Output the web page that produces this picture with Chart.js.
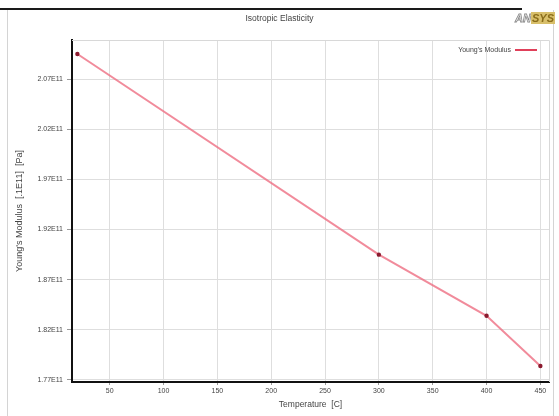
<!DOCTYPE html>
<html>
<head>
<meta charset="utf-8">
<script src="https://cdn.jsdelivr.net/npm/chart.js@4/dist/chart.umd.min.js"></script>
<style>
    html, body { margin: 0; padding: 0; background: #fff; }
    #wrap { position: relative; width: 559px; height: 416px; overflow: hidden; }
    #chart { position: absolute; left: 0; top: 0; }
    .topline { position: absolute; left: 0; top: 8px; width: 522px; height: 2px; background: #1a1a1a; }
    .panel { position: absolute; left: 7px; top: 10px; width: 545px; height: 406px;
             border-left: 1px solid #d4d4d4; border-right: 1px solid #d4d4d4; }
    .title { position: absolute; left: 0; width: 559px; top: 13px; text-align: center;
             font: 8.5px "Liberation Sans", Arial, sans-serif; color: #444; }
    .logo { position: absolute; right: 4px; top: 12px; font: italic bold 11px "Liberation Sans", Arial, sans-serif; }
    .logo .an { color: #fff; -webkit-text-stroke: 0.8px #888; }
    .logo .sys { color: #8a6d1a; background: #d8bf6a; padding: 0 1px; }
</style>
</head>
<body>
<div id="wrap">
    <div class="panel"></div>
    <div class="topline"></div>
    <canvas id="chart" width="559" height="416"></canvas>
    <div class="title">Isotropic Elasticity</div>
    <div class="logo"><span class="an">AN</span><span class="sys">SYS</span></div>
</div>
<script>
// Chart data
const temperatures = [20, 300, 400, 450];
const youngsModulus = [2.095e11, 1.895e11, 1.834e11, 1.784e11];

const xTickValues = [50, 100, 150, 200, 250, 300, 350, 400, 450];
const xTickLabels = ['50', '100', '150', '200', '250', '300', '350', '400', '450'];
const yTickValues = [1.77e11, 1.82e11, 1.87e11, 1.92e11, 1.97e11, 2.02e11, 2.07e11];
const yTickLabels = ['1.77E11', '1.82E11', '1.87E11', '1.92E11', '1.97E11', '2.02E11', '2.07E11'];

const seriesName = "Young's Modulus";
const textColor = '#444';
const tickFont = { family: 'Liberation Sans', size: 7 };
const titleFont = { family: 'Liberation Sans', size: 8.5 };

// Light outline around the plot area + legend in the top right corner
const plotDecor = {
    id: 'plotDecor',
    beforeDatasetsDraw(chart) {
        const { ctx, chartArea: a } = chart;
        ctx.save();
        ctx.strokeStyle = '#d8d8d8';
        ctx.lineWidth = 1;
        ctx.beginPath();
        ctx.moveTo(a.left, a.top + 0.5);
        ctx.lineTo(a.right + 0.5, a.top + 0.5);
        ctx.lineTo(a.right + 0.5, a.bottom);
        ctx.stroke();
        ctx.restore();
    },
    afterDraw(chart) {
        const { ctx, chartArea: a } = chart;
        ctx.save();
        ctx.font = '7px "Liberation Sans"';
        ctx.fillStyle = textColor;
        ctx.textAlign = 'right';
        ctx.textBaseline = 'middle';
        const y = a.top + 10;
        ctx.fillText(seriesName, a.right - 38, y);
        ctx.strokeStyle = '#e0405a';
        ctx.lineWidth = 2;
        ctx.beginPath();
        ctx.moveTo(a.right - 34, y);
        ctx.lineTo(a.right - 12, y);
        ctx.stroke();
        ctx.restore();
    }
};

document.addEventListener('DOMContentLoaded', () => {
    const ctx = document.getElementById('chart');

    new Chart(ctx, {
        type: 'scatter',
        data: {
            datasets: [{
                label: seriesName,
                data: temperatures.map((t, i) => ({ x: t, y: youngsModulus[i] })),
                showLine: true,
                borderColor: 'rgba(238, 110, 130, 0.8)',
                borderWidth: 2,
                pointRadius: 2.2,
                pointBackgroundColor: '#8b1a2e',
                pointBorderColor: '#8b1a2e',
                pointBorderWidth: 0
            }]
        },
        options: {
            responsive: false,
            animation: false,
            layout: { padding: { left: 0, right: 10, top: 40, bottom: 0 } },
            plugins: {
                legend: { display: false },
                tooltip: { enabled: false }
            },
            scales: {
                x: {
                    type: 'linear',
                    min: 15,
                    max: 458,
                    afterBuildTicks: s => { s.ticks = xTickValues.map(v => ({ value: v })); },
                    afterFit: s => { s.height = 34; },
                    border: { color: '#111', width: 2 },
                    grid: { color: '#dedede', tickColor: '#999', tickLength: 3 },
                    ticks: {
                        color: textColor,
                        font: tickFont,
                        padding: 2,
                        maxRotation: 0,
                        callback: v => xTickLabels[xTickValues.indexOf(v)]
                    },
                    title: {
                        display: true,
                        text: 'Temperature  [C]',
                        color: textColor,
                        font: titleFont,
                        padding: { top: 0, bottom: 6 }
                    }
                },
                y: {
                    type: 'linear',
                    min: 1.768e11,
                    max: 2.109e11,
                    afterBuildTicks: s => { s.ticks = yTickValues.map(v => ({ value: v })); },
                    afterFit: s => { s.width = 72; },
                    border: { color: '#111', width: 2 },
                    grid: { color: '#dedede', tickColor: '#999', tickLength: 5 },
                    ticks: {
                        color: textColor,
                        font: tickFont,
                        padding: 4,
                        callback: v => {
                            const i = yTickValues.findIndex(t => Math.abs(t - v) < 1e6);
                            return i >= 0 ? yTickLabels[i] : '';
                        }
                    },
                    title: {
                        display: true,
                        text: "Young's Modulus  [.1E11]  [Pa]",
                        color: textColor,
                        font: { family: 'Liberation Sans', size: 9 },
                        padding: { top: 14, bottom: 0 }
                    }
                }
            }
        },
        plugins: [plotDecor]
    });
});
</script>
</body>
</html>
